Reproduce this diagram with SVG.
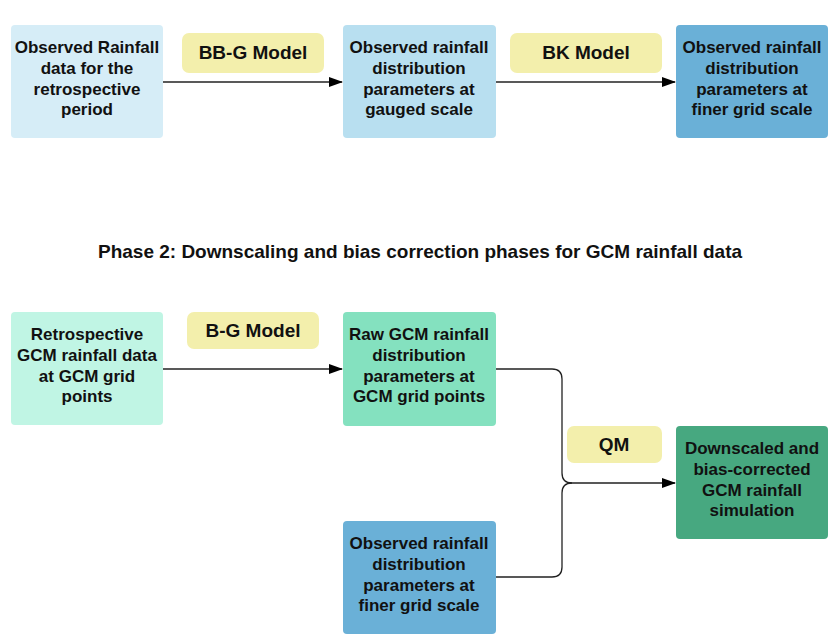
<svg xmlns="http://www.w3.org/2000/svg" width="838" height="643" viewBox="0 0 838 643">
<defs>
<style>
.t{font-family:"Liberation Sans",Arial,sans-serif;font-weight:bold;font-size:17px;fill:#111;text-anchor:middle}
.lt{font-family:"Liberation Sans",Arial,sans-serif;font-weight:bold;font-size:19px;fill:#111;text-anchor:middle}
.c{fill:none;stroke:#222;stroke-width:1.3}
</style>
<marker id="ah" markerWidth="14" markerHeight="10" refX="13" refY="5" orient="auto" markerUnits="userSpaceOnUse">
<path d="M0,0 L14,5 L0,10 Z" fill="#000"/>
</marker>
</defs>
<rect width="838" height="643" fill="#fff"/>

<g id="connectors">
<path class="c" d="M163,82 H342" marker-end="url(#ah)"/>
<path class="c" d="M496,82 H675" marker-end="url(#ah)"/>
<path class="c" d="M163,369 H342" marker-end="url(#ah)"/>
<path class="c" d="M496,369 H552 Q562,369 562,379 V473 Q562,483 572,483 H675" marker-end="url(#ah)"/>
<path class="c" d="M496,577 H552 Q562,577 562,567 V493 Q562,483 572,483"/>
</g>

<g id="n1">
<rect x="11" y="25" width="152" height="113" rx="4" fill="#d6edf7"/>
<text class="t" x="87" y="53">Observed Rainfall</text>
<text class="t" x="87" y="74">data for the</text>
<text class="t" x="87" y="95">retrospective</text>
<text class="t" x="87" y="115">period</text>
</g>
<g id="l1">
<rect x="182" y="33" width="142" height="40" rx="7" fill="#f3efac"/>
<text class="lt" x="253" y="59">BB-G Model</text>
</g>
<g id="n2">
<rect x="343" y="25" width="153" height="113" rx="4" fill="#b8dff0"/>
<text class="t" x="419" y="53">Observed rainfall</text>
<text class="t" x="419" y="74">distribution</text>
<text class="t" x="419" y="95">parameters at</text>
<text class="t" x="419" y="115">gauged scale</text>
</g>
<g id="l2">
<rect x="510" y="33" width="152" height="40" rx="7" fill="#f3efac"/>
<text class="lt" x="586" y="59">BK Model</text>
</g>
<g id="n3">
<rect x="676" y="25" width="152" height="113" rx="4" fill="#6ab0d7"/>
<text class="t" x="752" y="53">Observed rainfall</text>
<text class="t" x="752" y="74">distribution</text>
<text class="t" x="752" y="95">parameters at</text>
<text class="t" x="752" y="115">finer grid scale</text>
</g>

<g id="title">
<text class="lt" x="420" y="258">Phase 2: Downscaling and bias correction phases for GCM rainfall data</text>
</g>

<g id="n4">
<rect x="11" y="312" width="152" height="113" rx="4" fill="#c0f5e4"/>
<text class="t" x="87" y="340">Retrospective</text>
<text class="t" x="87" y="361">GCM rainfall data</text>
<text class="t" x="87" y="382">at GCM grid</text>
<text class="t" x="87" y="402">points</text>
</g>
<g id="l3">
<rect x="187" y="312" width="132" height="37" rx="7" fill="#f3efac"/>
<text class="lt" x="253" y="337">B-G Model</text>
</g>
<g id="n5">
<rect x="343" y="312" width="153" height="114" rx="4" fill="#84e1bf"/>
<text class="t" x="419" y="340">Raw GCM rainfall</text>
<text class="t" x="419" y="361">distribution</text>
<text class="t" x="419" y="382">parameters at</text>
<text class="t" x="419" y="402">GCM grid points</text>
</g>
<g id="l4">
<rect x="567" y="426" width="95" height="37" rx="7" fill="#f3efac"/>
<text class="lt" x="614" y="451">QM</text>
</g>
<g id="n6">
<rect x="676" y="426" width="152" height="113" rx="4" fill="#47a880"/>
<text class="t" x="752" y="454">Downscaled and</text>
<text class="t" x="752" y="475">bias-corrected</text>
<text class="t" x="752" y="496">GCM rainfall</text>
<text class="t" x="752" y="516">simulation</text>
</g>
<g id="n7">
<rect x="343" y="521" width="153" height="113" rx="4" fill="#6ab0d7"/>
<text class="t" x="419" y="549">Observed rainfall</text>
<text class="t" x="419" y="570">distribution</text>
<text class="t" x="419" y="591">parameters at</text>
<text class="t" x="419" y="611">finer grid scale</text>
</g>
</svg>
